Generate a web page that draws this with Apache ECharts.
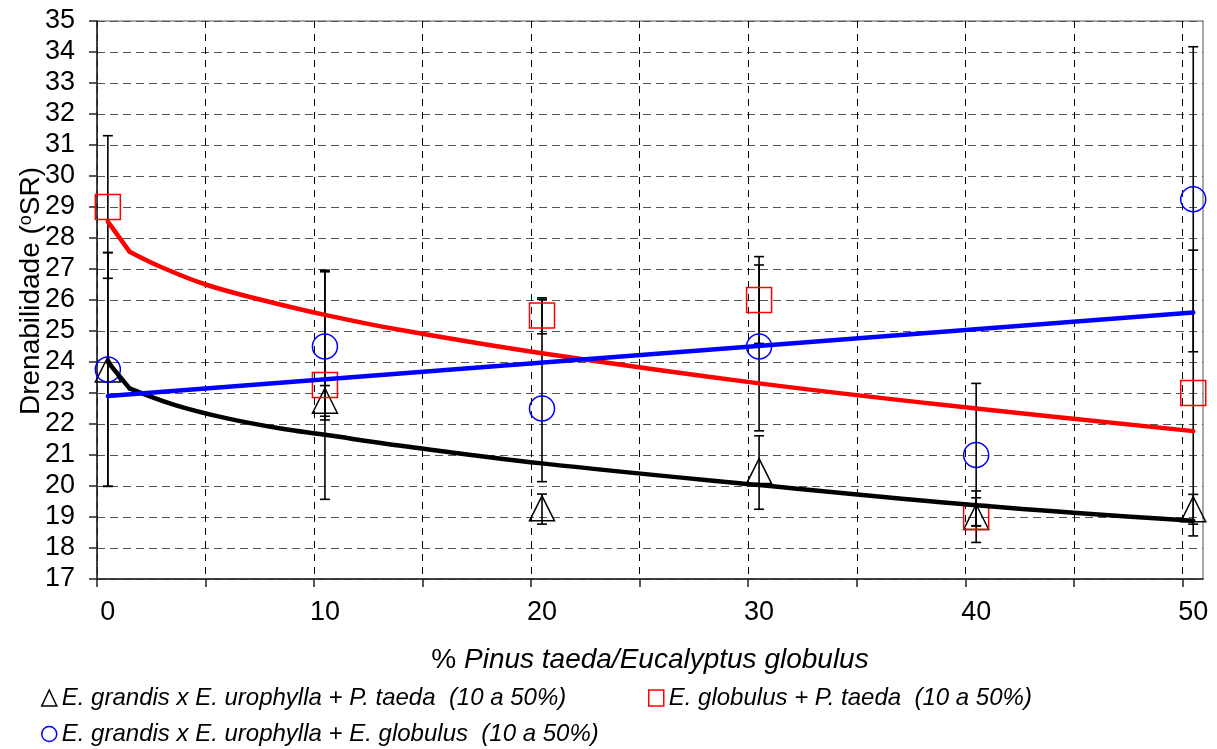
<!DOCTYPE html>
<html>
<head>
<meta charset="utf-8">
<script src="https://cdn.jsdelivr.net/npm/echarts@6/dist/echarts.min.js"></script>
<style>
  html, body { margin: 0; padding: 0; background: #fff; }
  #chart { width: 1217px; height: 749px; }
</style>
</head>
<body>
<div id="chart"></div>
<script>
// Mixture proportion (%) on the x axis
const xValues = [0, 10, 20, 30, 40, 50];
const xLabelValues = [0, 10, 20, 30, 40, 50];
const xGridValues = [-0.5, 4.5, 9.5, 14.5, 19.5, 24.5, 29.5, 34.5, 39.5, 44.5, 49.5];

// E. grandis x E. urophylla + P. taeda
const triMean = [23.76, 22.75, 19.28, 20.48, 19.0, 19.25];
const triLow  = [19.99, 22.25, 18.77, 19.25, 18.72, 18.77];
const triHigh = [27.53, 23.24, 19.74, 21.62, 19.62, 19.73];

// E. globulus + P. taeda
const sqMean = [29.0, 23.26, 25.5, 26.0, 19.0, 23.0];
const sqLow  = [26.7, 19.57, 24.91, 24.6, 18.18, 18.39];
const sqHigh = [31.3, 26.96, 26.07, 27.4, 19.84, 27.61];

// E. grandis x E. urophylla + E. globulus
const ciMean = [23.76, 24.5, 22.5, 24.5, 21.0, 29.25];
const ciLow  = [19.99, 22.13, 20.14, 21.78, 18.71, 24.33];
const ciHigh = [27.53, 26.91, 26.02, 27.13, 23.31, 34.17];

// Trend curves
const blackTrendX = [0, 1, 3.1, 5.5, 7.9, 10, 13.5, 20, 30, 40, 50];
const blackTrendY = [24.0, 23.15, 22.61, 22.18, 21.86, 21.65, 21.3, 20.73, 20.03, 19.38, 18.88];
const redTrendX = [0, 1, 2.5, 4.5, 7.1, 10, 13.5, 20, 30, 40, 50];
const redTrendY = [28.53, 27.56, 27.05, 26.5, 26.0, 25.52, 25.03, 24.28, 23.31, 22.5, 21.77];
const blueTrendX = [0, 50];
const blueTrendY = [22.9, 25.6];

const nameTri = 'E. grandis x E. urophylla + P. taeda  (10 a 50%)';
const nameSq = 'E. globulus + P. taeda  (10 a 50%)';
const nameCi = 'E. grandis x E. urophylla + E. globulus  (10 a 50%)';

const FONT = "'Liberation Sans', Arial, sans-serif";

const pairs = (xs, ys) => xs.map((x, i) => [x, ys[i]]);
const bars = (lo, hi) => xValues.map((x, i) => [x, lo[i], hi[i]]);

function errorBarSeries(name, lo, hi) {
  return {
    name: name,
    type: 'custom',
    z: 2,
    silent: true,
    encode: { x: 0, y: [1, 2] },
    data: bars(lo, hi),
    renderItem: function (params, api) {
      const x = api.value(0);
      const pLo = api.coord([x, api.value(1)]);
      const pHi = api.coord([x, api.value(2)]);
      const half = 5;
      const style = { stroke: '#000', lineWidth: 1.6 };
      return {
        type: 'group',
        children: [
          { type: 'line', shape: { x1: pLo[0], y1: pLo[1], x2: pHi[0], y2: pHi[1] }, style: style },
          { type: 'line', shape: { x1: pLo[0] - half, y1: pLo[1], x2: pLo[0] + half, y2: pLo[1] }, style: style },
          { type: 'line', shape: { x1: pHi[0] - half, y1: pHi[1], x2: pHi[0] + half, y2: pHi[1] }, style: style }
        ]
      };
    }
  };
}

function markerSeries(name, symbol, color, means) {
  return {
    name: name,
    type: 'scatter',
    symbol: symbol,
    symbolSize: 25,
    z: 3,
    itemStyle: { color: 'rgba(0,0,0,0)', borderColor: color, borderWidth: 1.5, opacity: 1 },
    data: pairs(xValues, means)
  };
}

// A trend curve drawn as a straight lead-in segment (first two points)
// followed by a smoothed body, so the corner at the second point stays sharp.
function trendSeries(name, color, xs, ys) {
  const pts = pairs(xs, ys);
  const base = {
    type: 'line',
    showSymbol: false,
    symbol: 'none',
    z: 4,
    lineStyle: { color: color, width: 4.5, cap: 'round', join: 'round' }
  };
  if (pts.length <= 2) {
    return [Object.assign({ name: name, data: pts }, base)];
  }
  return [
    Object.assign({ name: name + '-a', data: pts.slice(0, 2) }, base),
    Object.assign({ name: name + '-b', data: pts.slice(1), smooth: 0.4 }, base)
  ];
}

function legendAt(left, top, name, icon, color) {
  return {
    left: left,
    top: top,
    padding: 0,
    itemWidth: 15,
    itemHeight: 16,
    icon: icon,
    selectedMode: false,
    textStyle: { fontFamily: FONT, fontStyle: 'italic', fontSize: 24, color: '#000' },
    data: [{ name: name, icon: icon, itemStyle: { color: 'rgba(0,0,0,0)', borderColor: color, borderWidth: 1.5 } }]
  };
}

const chart = echarts.init(document.getElementById('chart'), null, { renderer: 'canvas' });

chart.setOption({
  animation: false,
  backgroundColor: '#fff',
  grid: {
    left: 97, right: 14, top: 21, bottom: 170,
    outerBoundsMode: 'none',
    containLabel: false,
    show: true, borderColor: '#8c8c8c', borderWidth: 1.5
  },
  legend: [
    legendAt(41, 686, nameTri, 'triangle', '#000'),
    legendAt(648, 686, nameSq, 'rect', '#ff0000'),
    legendAt(41, 722, nameCi, 'circle', '#0000ff')
  ],
  xAxis: {
    type: 'value',
    min: -0.5,
    max: 50.45,
    name: '{n|% }{i|Pinus taeda/Eucalyptus globulus}',
    nameLocation: 'middle',
    nameGap: 67,
    nameMoveOverlap: false,
    nameTextStyle: {
      fontFamily: FONT, fontSize: 28, color: '#000',
      rich: {
        n: { fontFamily: FONT, fontSize: 28, color: '#000' },
        i: { fontFamily: FONT, fontSize: 28, fontStyle: 'italic', color: '#000' }
      }
    },
    axisLine: { onZero: false, lineStyle: { color: '#222', width: 1.5 } },
    axisTick: { show: true, length: 8, customValues: xGridValues, lineStyle: { color: '#222', width: 1.5 } },
    axisLabel: { customValues: xLabelValues, fontFamily: FONT, fontSize: 27, color: '#000', margin: 20 },
    splitLine: { show: true, lineStyle: { color: '#000', width: 1, type: [7, 6] } }
  },
  yAxis: {
    type: 'value',
    min: 17,
    max: 35,
    interval: 1,
    name: 'Drenabilidade ({s|o}SR)',
    nameLocation: 'middle',
    nameRotate: 90,
    nameGap: 52,
    nameMoveOverlap: false,
    nameTextStyle: {
      fontFamily: FONT, fontSize: 28, color: '#000',
      padding: [0, 0, 0, 18],
      rich: {
        s: { fontFamily: FONT, fontSize: 18, color: '#000', verticalAlign: 'top', lineHeight: 18, padding: [0, 0, 12, 0] }
      }
    },
    axisLine: { show: true, onZero: false, lineStyle: { color: '#222', width: 1.5 } },
    axisTick: { show: true, length: 8, lineStyle: { color: '#222', width: 1.5 } },
    axisLabel: { fontFamily: FONT, fontSize: 27, color: '#000', margin: 22 },
    splitLine: { show: true, lineStyle: { color: '#555', width: 1, type: [8, 5] } }
  },
  series: [
    errorBarSeries('eb-tri', triLow, triHigh),
    errorBarSeries('eb-sq', sqLow, sqHigh),
    errorBarSeries('eb-ci', ciLow, ciHigh),
    markerSeries(nameTri, 'triangle', '#000', triMean),
    markerSeries(nameSq, 'rect', '#ff0000', sqMean),
    markerSeries(nameCi, 'circle', '#0000ff', ciMean)
  ].concat(
    trendSeries('trend-tri', '#000', blackTrendX, blackTrendY),
    trendSeries('trend-sq', '#ff0000', redTrendX, redTrendY),
    trendSeries('trend-ci', '#0000ff', blueTrendX, blueTrendY)
  )
});
</script>
</body>
</html>
